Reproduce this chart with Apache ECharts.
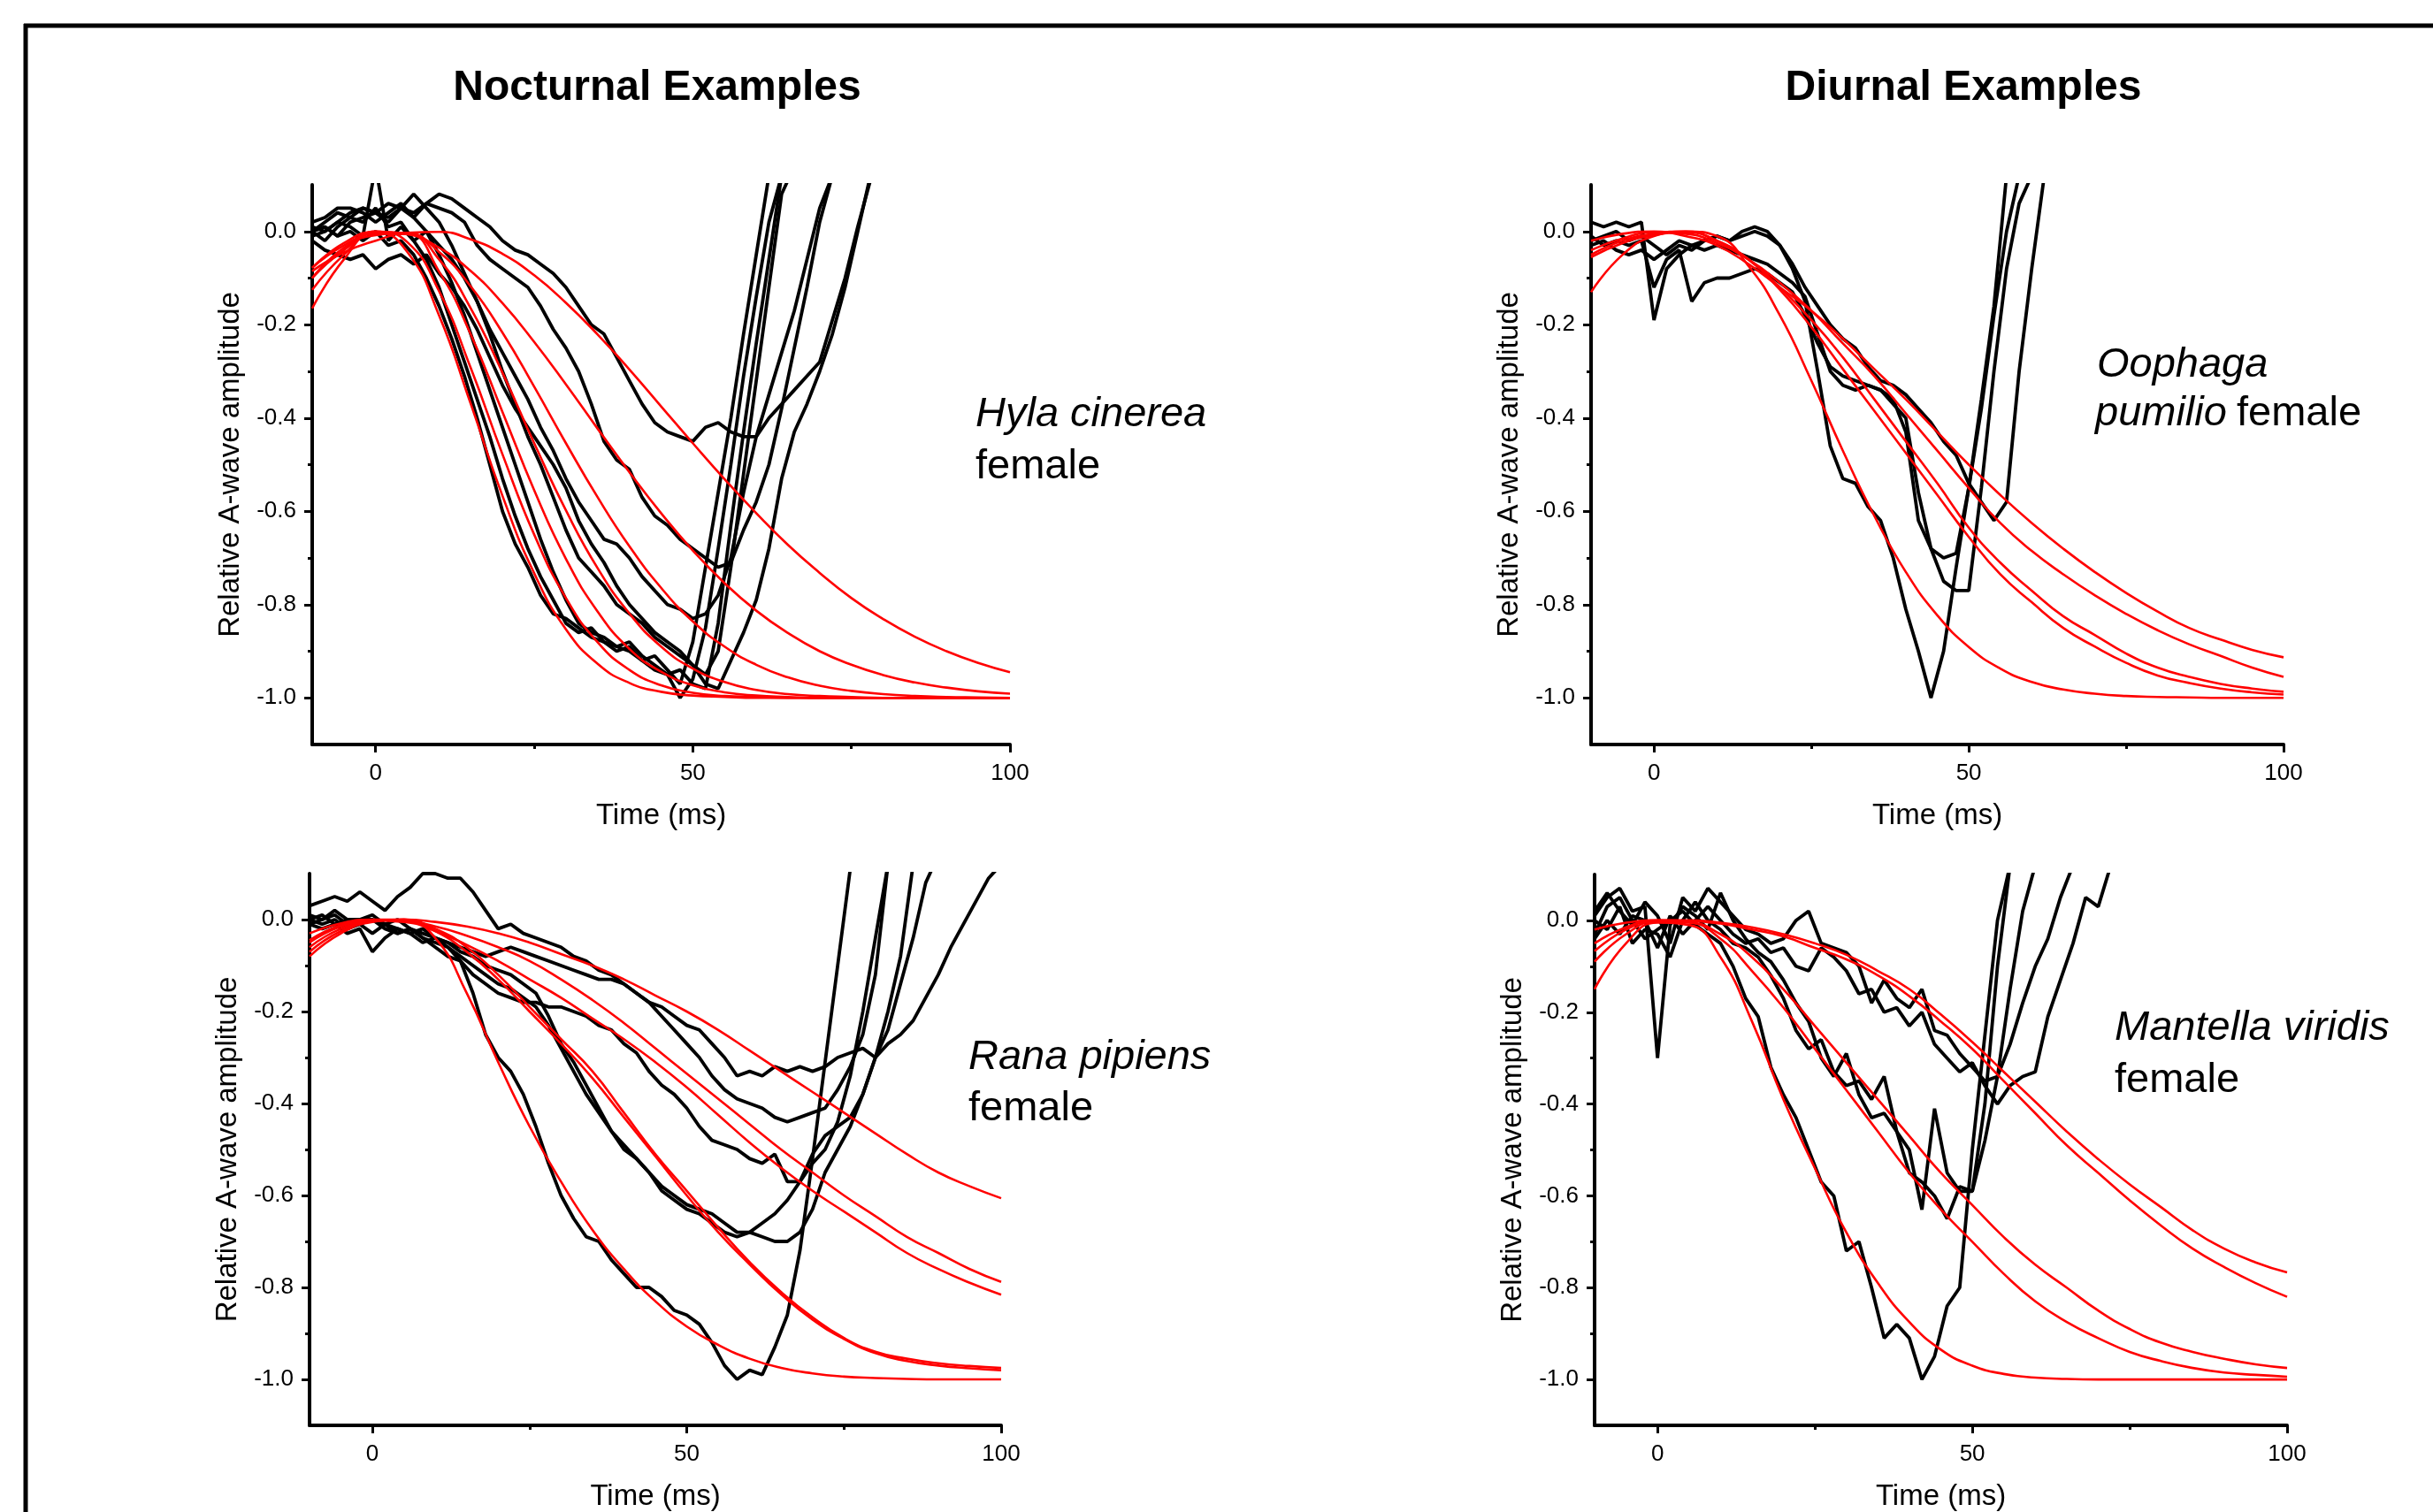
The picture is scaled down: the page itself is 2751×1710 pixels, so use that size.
<!DOCTYPE html>
<html>
<head>
<meta charset="utf-8">
<title>A-wave examples</title>
<script src="https://cdn.jsdelivr.net/npm/echarts@6/dist/echarts.min.js"></script>
<style>
  html, body { margin: 0; padding: 0; background: #fff; }
  #chart { width: 2751px; height: 1710px; }
</style>
</head>
<body>
<div id="chart"></div>
<script>
const fontFamily = '"Liberation Sans", Arial, Helvetica, sans-serif'

// time bases (ms): raw traces every 2 ms, fitted curves every 5 ms
const tTrace = [-10,-8,-6,-4,-2,0,2,4,6,8,10,12,14,16,18,20,22,24,26,28,30,32,34,36,38,40,42,44,46,48,50,52,54,56,58,60,62,64,66,68,70,72,74,76,78,80,82,84,86,88,90,92,94,96,98,100]
const tFit = [-10,-5,0,5,10,15,20,25,30,35,40,45,50,55,60,65,70,75,80,85,90,95,100]

const xMajor = [0, 50, 100]
const xMinor = [25, 75]
const yMajor = [-1, -0.8, -0.6, -0.4, -0.2, 0]
const yMinor = [-0.9, -0.7, -0.5, -0.3, -0.1]

// Hyla cinerea (nocturnal, top left)
const hylaT1 = [0.00,0.01,-0.01,0.02,0.03,0.04,0.03,0.05,0.04,0.06,0.08,0.07,0.05,0.03,0.01,-0.02,-0.04,-0.05,-0.07,-0.09,-0.12,-0.16,-0.20,-0.22,-0.27,-0.32,-0.37,-0.41,-0.43,-0.44,-0.45,-0.42,-0.41,-0.43,-0.44,-0.44,-0.40,-0.37,-0.34,-0.31,-0.28,-0.19,-0.10,0.01,0.11]
const hylaT2 = [-0.01,0.00,0.02,0.04,0.05,0.04,0.02,0.05,0.03,0.06,0.05,0.04,0.02,-0.03,-0.06,-0.08,-0.10,-0.12,-0.16,-0.21,-0.25,-0.30,-0.37,-0.45,-0.49,-0.51,-0.57,-0.61,-0.63,-0.66,-0.68,-0.70,-0.72,-0.71,-0.64,-0.58,-0.50,-0.38,-0.25,-0.12,0.02,0.12]
const hylaT3 = [0.00,-0.02,0.01,0.03,0.02,0.05,0.01,0.02,-0.02,0.00,-0.03,-0.06,-0.10,-0.15,-0.21,-0.26,-0.31,-0.36,-0.42,-0.47,-0.53,-0.58,-0.62,-0.66,-0.67,-0.70,-0.74,-0.77,-0.80,-0.81,-0.83,-0.82,-0.78,-0.70,-0.56,-0.44,-0.35,-0.26,-0.17,-0.06,0.05,0.12]
const hylaT4 = [-0.02,-0.04,-0.05,-0.06,-0.05,-0.08,-0.06,-0.05,-0.07,-0.05,-0.09,-0.12,-0.16,-0.21,-0.27,-0.33,-0.38,-0.42,-0.46,-0.50,-0.55,-0.62,-0.67,-0.71,-0.76,-0.80,-0.83,-0.86,-0.88,-0.90,-0.93,-0.97,-0.98,-0.92,-0.86,-0.79,-0.68,-0.53,-0.43,-0.37,-0.30,-0.22,-0.12,0.00,0.12]
const hylaT5 = [0.00,0.01,-0.01,0.00,-0.02,0.00,-0.03,-0.02,-0.05,-0.10,-0.16,-0.23,-0.31,-0.40,-0.50,-0.60,-0.67,-0.72,-0.78,-0.82,-0.83,-0.85,-0.87,-0.88,-0.89,-0.90,-0.92,-0.91,-0.94,-0.97,-0.88,-0.72,-0.56,-0.40,-0.22,-0.05,0.12]
const hylaT6 = [0.01,0.00,0.02,0.01,-0.01,0.14,-0.02,0.01,-0.02,-0.06,-0.12,-0.20,-0.28,-0.36,-0.44,-0.53,-0.61,-0.68,-0.74,-0.79,-0.84,-0.86,-0.85,-0.88,-0.90,-0.89,-0.92,-0.94,-0.95,-1.00,-0.96,-0.85,-0.68,-0.50,-0.31,-0.14,0.02,0.12]
const hylaT7 = [0.02,0.03,0.05,0.05,0.04,0.02,0.04,0.06,0.03,0.00,-0.05,-0.11,-0.18,-0.26,-0.34,-0.42,-0.50,-0.58,-0.66,-0.73,-0.79,-0.84,-0.86,-0.87,-0.89,-0.88,-0.91,-0.93,-0.95,-0.94,-0.97,-0.98,-0.84,-0.63,-0.43,-0.24,-0.06,0.12]
const hylaT8 = [0.00,0.02,0.04,0.03,0.05,0.04,0.06,0.05,0.08,0.05,0.02,-0.03,-0.09,-0.15,-0.22,-0.30,-0.37,-0.44,-0.50,-0.57,-0.64,-0.70,-0.73,-0.76,-0.80,-0.82,-0.84,-0.87,-0.89,-0.91,-0.93,-0.95,-0.90,-0.72,-0.52,-0.32,-0.12,0.08,0.14]
const hylaFitA = [-0.165,-0.06,0,-0.044,-0.18,-0.37,-0.567,-0.733,-0.853,-0.927,-0.968,-0.987,-0.995,-0.998,-1,-1,-1,-1,-1,-1,-1,-1,-1]
const hylaFitB = [-0.125,-0.05,0,-0.023,-0.128,-0.293,-0.478,-0.65,-0.786,-0.881,-0.94,-0.973,-0.989,-0.996,-0.998,-1,-1,-1,-1,-1,-1,-1,-1]
const hylaFitC = [-0.1,-0.04,-0.005,-0.005,-0.086,-0.221,-0.387,-0.555,-0.702,-0.815,-0.895,-0.944,-0.973,-0.988,-0.995,-0.998,-1,-1,-1,-1,-1,-1,-1]
const hylaFitD = [-0.1,-0.035,-0.008,-0.003,-0.06,-0.165,-0.303,-0.454,-0.598,-0.722,-0.819,-0.89,-0.937,-0.966,-0.983,-0.992,-0.996,-0.998,-1,-1,-1,-1,-1]
const hylaFitE = [-0.078,-0.03,-0.005,-0.005,-0.044,-0.118,-0.217,-0.333,-0.454,-0.57,-0.675,-0.764,-0.836,-0.89,-0.929,-0.956,-0.974,-0.985,-0.992,-0.996,-0.998,-0.999,-1]
const hylaFitF = [-0.078,-0.025,-0.001,-0.006,-0.035,-0.085,-0.154,-0.237,-0.328,-0.423,-0.516,-0.604,-0.684,-0.754,-0.813,-0.861,-0.9,-0.929,-0.951,-0.967,-0.978,-0.986,-0.991]
const hylaFitG = [-0.085,-0.045,-0.02,-0.003,-0.001,-0.017,-0.048,-0.094,-0.153,-0.221,-0.296,-0.375,-0.454,-0.531,-0.604,-0.672,-0.732,-0.786,-0.831,-0.869,-0.9,-0.925,-0.945]

// Oophaga pumilio (diurnal, top right)
const oophT1 = [-0.03,-0.02,-0.04,-0.05,-0.04,-0.06,-0.04,-0.02,-0.03,-0.02,-0.01,-0.02,0.00,0.01,0.00,-0.03,-0.08,-0.15,-0.30,-0.46,-0.53,-0.54,-0.59,-0.62,-0.70,-0.81,-0.90,-1.00,-0.90,-0.72,-0.55,-0.36,-0.16,0.12]
const oophT2 = [0.02,0.01,0.02,0.01,0.02,-0.19,-0.08,-0.05,-0.03,-0.04,-0.03,-0.04,-0.05,-0.06,-0.07,-0.09,-0.11,-0.14,-0.22,-0.30,-0.33,-0.34,-0.33,-0.34,-0.36,-0.43,-0.62,-0.68,-0.70,-0.69,-0.55,-0.38,-0.18,0.00,0.12]
const oophT3 = [-0.01,-0.03,-0.02,-0.03,-0.02,-0.12,-0.06,-0.04,-0.15,-0.11,-0.10,-0.10,-0.09,-0.08,-0.09,-0.11,-0.13,-0.18,-0.24,-0.29,-0.31,-0.32,-0.33,-0.34,-0.37,-0.40,-0.56,-0.68,-0.75,-0.77,-0.77,-0.55,-0.30,-0.08,0.06,0.12]
const oophT4 = [-0.02,-0.01,0.00,-0.02,-0.01,-0.03,-0.05,-0.03,-0.04,-0.02,-0.01,-0.02,-0.01,0.00,-0.01,-0.03,-0.07,-0.12,-0.16,-0.20,-0.23,-0.25,-0.29,-0.32,-0.33,-0.35,-0.38,-0.41,-0.45,-0.48,-0.54,-0.58,-0.62,-0.58,-0.30,-0.08,0.12]
const oophFitA = [-0.13,-0.05,-0.01,0,-0.01,-0.074,-0.18,-0.32,-0.47,-0.61,-0.73,-0.823,-0.891,-0.937,-0.966,-0.982,-0.991,-0.996,-0.998,-0.999,-1,-1,-1]
const oophFitB = [-0.02,-0.005,0,-0.01,-0.03,-0.07,-0.12,-0.17,-0.23,-0.295,-0.36,-0.43,-0.5,-0.565,-0.625,-0.68,-0.73,-0.775,-0.815,-0.85,-0.875,-0.897,-0.913]
const oophFitC = [-0.04,-0.015,-0.002,-0.005,-0.025,-0.06,-0.11,-0.17,-0.24,-0.31,-0.39,-0.47,-0.55,-0.625,-0.685,-0.735,-0.78,-0.82,-0.855,-0.885,-0.91,-0.935,-0.955]
const oophFitD = [-0.055,-0.025,-0.008,-0.002,-0.02,-0.06,-0.12,-0.19,-0.27,-0.36,-0.45,-0.54,-0.635,-0.71,-0.77,-0.825,-0.865,-0.905,-0.935,-0.955,-0.97,-0.98,-0.987]
const oophFitE = [-0.05,-0.02,-0.005,0,-0.02,-0.06,-0.125,-0.205,-0.295,-0.385,-0.475,-0.565,-0.655,-0.735,-0.795,-0.85,-0.89,-0.925,-0.952,-0.968,-0.98,-0.988,-0.993]

// Rana pipiens (nocturnal, bottom left)
const ranaT1 = [-0.01,-0.02,-0.01,-0.03,-0.02,-0.07,-0.04,-0.02,-0.03,-0.05,-0.04,-0.06,-0.09,-0.16,-0.25,-0.30,-0.33,-0.38,-0.45,-0.53,-0.60,-0.65,-0.69,-0.70,-0.74,-0.77,-0.80,-0.80,-0.82,-0.85,-0.86,-0.88,-0.92,-0.97,-1.00,-0.98,-0.99,-0.93,-0.86,-0.72,-0.52,-0.31,-0.10,0.11]
const ranaT2 = [0.00,0.01,-0.01,0.00,0.00,0.00,-0.02,-0.03,-0.02,-0.03,-0.04,-0.05,-0.07,-0.08,-0.10,-0.11,-0.12,-0.14,-0.16,-0.21,-0.27,-0.31,-0.36,-0.41,-0.46,-0.50,-0.52,-0.55,-0.59,-0.61,-0.63,-0.64,-0.66,-0.68,-0.69,-0.68,-0.66,-0.64,-0.61,-0.57,-0.51,-0.47,-0.45,-0.43,-0.38,-0.30,-0.20,-0.08,0.12]
const ranaT3 = [0.01,0.00,0.02,0.00,-0.01,0.00,-0.01,-0.03,-0.02,-0.04,-0.05,-0.06,-0.08,-0.10,-0.12,-0.14,-0.15,-0.17,-0.19,-0.23,-0.28,-0.33,-0.38,-0.42,-0.46,-0.49,-0.52,-0.55,-0.58,-0.60,-0.62,-0.63,-0.64,-0.66,-0.68,-0.68,-0.69,-0.70,-0.70,-0.68,-0.63,-0.55,-0.50,-0.45,-0.38,-0.30,-0.24,-0.14,-0.04,0.08,0.14]
const ranaT4 = [0.00,-0.01,0.00,-0.02,-0.01,-0.03,-0.01,-0.02,-0.03,-0.02,-0.04,-0.05,-0.06,-0.07,-0.08,-0.07,-0.06,-0.07,-0.08,-0.09,-0.10,-0.11,-0.12,-0.13,-0.13,-0.14,-0.16,-0.18,-0.21,-0.24,-0.27,-0.30,-0.34,-0.37,-0.39,-0.40,-0.41,-0.43,-0.44,-0.43,-0.42,-0.41,-0.37,-0.32,-0.25,-0.12,0.12]
const ranaT5 = [0.03,0.04,0.05,0.04,0.06,0.04,0.02,0.05,0.07,0.10,0.10,0.09,0.09,0.06,0.02,-0.02,-0.01,-0.03,-0.04,-0.05,-0.06,-0.08,-0.09,-0.11,-0.12,-0.14,-0.16,-0.18,-0.19,-0.21,-0.23,-0.24,-0.27,-0.30,-0.34,-0.33,-0.34,-0.32,-0.33,-0.32,-0.33,-0.32,-0.30,-0.29,-0.28,-0.30,-0.27,-0.25,-0.22,-0.17,-0.12,-0.06,-0.01,0.04,0.09,0.12]
const ranaT6 = [-0.01,0.00,0.01,-0.01,0.00,0.01,-0.01,0.00,-0.02,-0.04,-0.06,-0.08,-0.09,-0.12,-0.14,-0.16,-0.17,-0.18,-0.18,-0.19,-0.19,-0.20,-0.21,-0.23,-0.24,-0.27,-0.29,-0.33,-0.36,-0.38,-0.41,-0.45,-0.48,-0.49,-0.50,-0.52,-0.53,-0.51,-0.57,-0.57,-0.53,-0.50,-0.44,-0.34,-0.20,-0.04,0.12]
const ranaFitA = [-0.08,-0.03,-0.005,0,-0.04,-0.16,-0.31,-0.45,-0.57,-0.675,-0.76,-0.83,-0.885,-0.925,-0.955,-0.975,-0.987,-0.994,-0.997,-0.999,-1,-1,-1]
const ranaFitB = [-0.06,-0.02,-0.003,0,-0.02,-0.06,-0.12,-0.19,-0.26,-0.33,-0.42,-0.51,-0.59,-0.67,-0.745,-0.81,-0.865,-0.91,-0.94,-0.955,-0.965,-0.971,-0.975]
const ranaFitC = [-0.07,-0.025,-0.004,0,-0.025,-0.07,-0.13,-0.2,-0.27,-0.345,-0.43,-0.515,-0.6,-0.68,-0.75,-0.815,-0.87,-0.912,-0.943,-0.96,-0.97,-0.976,-0.98]
const ranaFitD = [-0.05,-0.015,-0.002,-0.005,-0.025,-0.055,-0.09,-0.13,-0.17,-0.215,-0.26,-0.31,-0.365,-0.425,-0.485,-0.54,-0.59,-0.635,-0.68,-0.725,-0.76,-0.79,-0.816]
const ranaFitE = [-0.045,-0.012,-0.001,-0.003,-0.015,-0.035,-0.06,-0.09,-0.13,-0.175,-0.225,-0.28,-0.335,-0.39,-0.445,-0.5,-0.55,-0.6,-0.645,-0.69,-0.725,-0.76,-0.788]
const ranaFitF = [-0.03,-0.008,0,0,-0.005,-0.015,-0.03,-0.05,-0.075,-0.1,-0.13,-0.165,-0.2,-0.24,-0.285,-0.33,-0.375,-0.42,-0.465,-0.51,-0.55,-0.58,-0.606]

// Mantella viridis (diurnal, bottom right)
const mantT1 = [-0.03,0.03,0.05,0.00,-0.04,-0.02,0.00,0.02,-0.01,-0.03,-0.05,-0.10,-0.17,-0.21,-0.32,-0.38,-0.43,-0.50,-0.57,-0.60,-0.72,-0.70,-0.80,-0.91,-0.88,-0.91,-1.00,-0.95,-0.84,-0.80,-0.50,-0.25,0.00,0.12]
const mantT2 = [0.01,0.05,0.07,0.02,0.03,-0.30,-0.01,0.03,0.01,-0.02,0.06,0.00,-0.04,-0.07,-0.09,-0.13,-0.18,-0.22,-0.30,-0.34,-0.29,-0.38,-0.43,-0.42,-0.46,-0.55,-0.57,-0.60,-0.65,-0.58,-0.59,-0.40,-0.10,0.12]
const mantT3 = [0.00,-0.02,0.03,-0.05,-0.02,-0.03,-0.08,0.00,0.04,0.00,-0.02,-0.05,-0.06,-0.08,-0.12,-0.17,-0.24,-0.28,-0.26,-0.33,-0.36,-0.35,-0.39,-0.34,-0.46,-0.50,-0.63,-0.41,-0.55,-0.59,-0.59,-0.48,-0.34,-0.15,0.02,0.12]
const mantT4 = [0.02,0.06,0.02,-0.01,0.04,0.01,-0.05,0.05,0.02,0.07,0.04,0.01,-0.02,-0.03,-0.05,-0.04,0.00,0.02,-0.05,-0.06,-0.07,-0.10,-0.18,-0.13,-0.17,-0.19,-0.15,-0.24,-0.25,-0.29,-0.32,-0.35,-0.34,-0.27,-0.18,-0.10,-0.04,0.05,0.12]
const mantT5 = [-0.04,0.00,-0.03,0.01,0.00,-0.06,0.01,-0.03,0.00,0.03,0.00,-0.03,-0.05,-0.04,-0.07,-0.06,-0.10,-0.11,-0.06,-0.08,-0.11,-0.16,-0.15,-0.20,-0.19,-0.23,-0.20,-0.27,-0.30,-0.33,-0.31,-0.36,-0.40,-0.36,-0.34,-0.33,-0.21,-0.13,-0.05,0.05,0.03,0.12]
const mantFitA = [-0.15,-0.05,-0.005,-0.01,-0.08,-0.22,-0.39,-0.54,-0.68,-0.79,-0.875,-0.935,-0.97,-0.988,-0.996,-0.999,-1,-1,-1,-1,-1,-1,-1]
const mantFitB = [-0.09,-0.03,-0.002,-0.005,-0.04,-0.11,-0.19,-0.28,-0.37,-0.46,-0.55,-0.63,-0.7,-0.77,-0.83,-0.875,-0.91,-0.94,-0.96,-0.975,-0.985,-0.99,-0.994]
const mantFitC = [-0.067,-0.02,-0.001,-0.004,-0.03,-0.08,-0.15,-0.23,-0.31,-0.39,-0.47,-0.55,-0.62,-0.69,-0.75,-0.8,-0.85,-0.89,-0.92,-0.94,-0.955,-0.967,-0.975]
const mantFitD = [-0.02,-0.005,0,0,-0.005,-0.015,-0.03,-0.05,-0.075,-0.11,-0.15,-0.205,-0.265,-0.33,-0.395,-0.46,-0.52,-0.575,-0.625,-0.675,-0.715,-0.745,-0.767]
const mantFitE = [-0.05,-0.015,0,-0.001,-0.007,-0.02,-0.035,-0.06,-0.085,-0.12,-0.165,-0.22,-0.28,-0.35,-0.42,-0.49,-0.55,-0.61,-0.665,-0.715,-0.755,-0.79,-0.82]

const panels = [
  { box: { left: 353, top: 209, width: 789, height: 633 },
    traces: [hylaT1, hylaT2, hylaT3, hylaT4, hylaT5, hylaT6, hylaT7, hylaT8],
    fits: [hylaFitA, hylaFitB, hylaFitC, hylaFitD, hylaFitE, hylaFitF, hylaFitG] },
  { box: { left: 1799, top: 209, width: 783, height: 633 },
    traces: [oophT1, oophT2, oophT3, oophT4],
    fits: [oophFitA, oophFitB, oophFitC, oophFitD, oophFitE] },
  { box: { left: 350, top: 988, width: 782, height: 624 },
    traces: [ranaT1, ranaT2, ranaT3, ranaT4, ranaT5, ranaT6],
    fits: [ranaFitA, ranaFitB, ranaFitC, ranaFitD, ranaFitE, ranaFitF] },
  { box: { left: 1803, top: 989, width: 783, height: 629 },
    traces: [mantT1, mantT2, mantT3, mantT4, mantT5],
    fits: [mantFitA, mantFitB, mantFitC, mantFitD, mantFitE] }
]

const black = '#000'
const tickStyle = { color: black, width: 3 }

function xAxes(i) {
  return [{
    type: 'value', gridIndex: i, min: -10, max: 100, position: 'bottom',
    axisLine: { show: true, onZero: false, lineStyle: { color: black, width: 4 } },
    axisTick: { show: true, customValues: xMajor, length: 9, lineStyle: tickStyle },
    axisLabel: { customValues: xMajor, color: black, fontSize: 26, margin: 20, fontFamily },
    splitLine: { show: false },
    name: 'Time (ms)', nameLocation: 'middle', nameGap: 64,
    nameTextStyle: { color: black, fontSize: 33, fontFamily }
  }, {
    type: 'value', gridIndex: i, min: -10, max: 100, position: 'bottom',
    axisLine: { show: false, onZero: false },
    axisTick: { show: true, customValues: xMinor, length: 5, lineStyle: tickStyle },
    axisLabel: { show: false }, splitLine: { show: false }
  }]
}

function yAxes(i) {
  return [{
    type: 'value', gridIndex: i, min: -1.1, max: 0.1, position: 'left',
    axisLine: { show: true, onZero: false, lineStyle: { color: black, width: 4 } },
    axisTick: { show: true, customValues: yMajor, length: 9, lineStyle: tickStyle },
    axisLabel: { customValues: yMajor, color: black, fontSize: 26, margin: 18, fontFamily,
      formatter: v => Number(v).toFixed(1) },
    splitLine: { show: false },
    name: 'Relative A-wave amplitude', nameLocation: 'middle', nameGap: 76,
    nameTextStyle: { color: black, fontSize: 33, fontFamily }
  }, {
    type: 'value', gridIndex: i, min: -1.1, max: 0.1, position: 'left',
    axisLine: { show: false, onZero: false },
    axisTick: { show: true, customValues: yMinor, length: 5, lineStyle: tickStyle },
    axisLabel: { show: false }, splitLine: { show: false }
  }]
}

const grid = []
const xAxis = []
const yAxis = []
const series = []
panels.forEach((p, i) => {
  grid.push(p.box)
  xAxis.push(...xAxes(i))
  yAxis.push(...yAxes(i))
  p.traces.forEach(tr => series.push({
    type: 'line', xAxisIndex: 2 * i, yAxisIndex: 2 * i, silent: true,
    data: tr.map((v, k) => [tTrace[k], v]),
    symbol: 'none', lineStyle: { color: black, width: 3.8 }
  }))
  p.fits.forEach(f => series.push({
    type: 'line', xAxisIndex: 2 * i, yAxisIndex: 2 * i, silent: true,
    data: f.map((v, k) => [tFit[k], v]),
    symbol: 'none', smooth: true, lineStyle: { color: '#ff0000', width: 2.6 }
  }))
})

function label(x, y, text, opts = {}) {
  return {
    type: 'text', x, y, silent: true,
    style: {
      text, fill: black, fontFamily,
      fontSize: opts.size || 47,
      fontStyle: opts.italic ? 'italic' : 'normal',
      fontWeight: opts.bold ? 'bold' : 'normal',
      align: opts.align || 'left', verticalAlign: 'middle'
    }
  }
}

const graphic = [
  { type: 'line', silent: true, shape: { x1: 27, y1: 29, x2: 2751, y2: 29 }, style: { stroke: black, lineWidth: 5 } },
  { type: 'line', silent: true, shape: { x1: 29, y1: 27, x2: 29, y2: 1710 }, style: { stroke: black, lineWidth: 5 } },
  label(743, 100, 'Nocturnal Examples', { size: 48, bold: true, align: 'center' }),
  label(2220, 100, 'Diurnal Examples', { size: 48, bold: true, align: 'center' }),
  label(1103, 469, 'Hyla cinerea', { italic: true }),
  label(1103, 528, 'female'),
  label(2371, 413, 'Oophaga', { italic: true }),
  label(2369, 468, 'pumilio', { italic: true }),
  label(2529, 468, 'female'),
  label(1095, 1196, 'Rana pipiens', { italic: true }),
  label(1095, 1254, 'female'),
  label(2391, 1163, 'Mantella viridis', { italic: true }),
  label(2391, 1222, 'female')
]

const chart = echarts.init(document.getElementById('chart'))
chart.setOption({
  animation: false,
  backgroundColor: '#fff',
  grid, xAxis, yAxis, series, graphic
})
</script>
</body>
</html>
